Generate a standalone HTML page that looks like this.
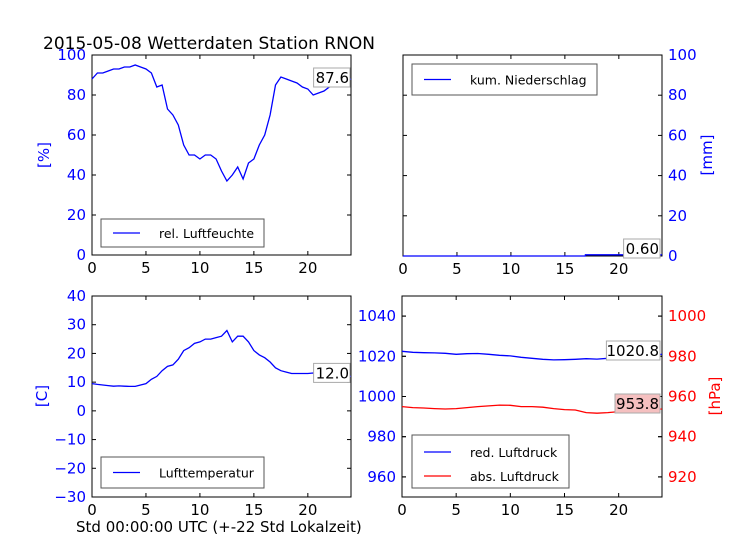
<!DOCTYPE html>
<html><head><meta charset="utf-8"><style>
html,body{margin:0;padding:0;background:#fff;}
svg{display:block;font-family:"DejaVu Sans","Liberation Sans",sans-serif;}
</style></head><body>
<svg id="chart" width="736" height="552" viewBox="0 0 736 552" xmlns="http://www.w3.org/2000/svg">
<rect width="736" height="552" fill="#fff"/>
<text x="43" y="49" font-size="17" fill="#000">2015-05-08 Wetterdaten Station RNON</text>
<text x="76" y="532" font-size="15" fill="#000">Std 00:00:00 UTC (+-22 Std Lokalzeit)</text>
</svg>
<script>
const hours = [0,0.5,1,1.5,2,2.5,3,3.5,4,4.5,5,5.5,6,6.5,7,7.5,8,8.5,9,9.5,10,10.5,11,11.5,12,12.5,13,13.5,14,14.5,15,15.5,16,16.5,17,17.5,18,18.5,19,19.5,20,20.5,21,21.5,22,22.5,23,23.5,24];
const humidity = [88,91,91,92,93,93,94,94,95,94,93,91,84,85,73,70,65,55,50,50,48,50,50,48,42,37,40,44,38,46,48,55,60,70,85,89,88,87,86,84,83,80,81,82,84,85,86,87,88];
const temperature = [9.5,9.2,9,8.8,8.6,8.7,8.6,8.5,8.5,9,9.5,11,12,14,15.5,16,18,21,22,23.5,24,25,25,25.5,26,28,24,26,26,24,21,19.5,18.5,17,15,14,13.5,13,13,13,13,13.2,13,12.8,12.5,12.3,12.2,12,12];
const precipHours = [0,16.9,16.9,24];
const precip = [0,0,0.6,0.6];
const pHours = [0,1,2,3,4,5,6,7,8,9,10,11,12,13,14,15,16,17,18,19,20,21,22,23,24];
const redPressure = [1022.5,1022,1021.8,1021.7,1021.5,1021,1021.3,1021.4,1021,1020.5,1020.2,1019.5,1019,1018.5,1018.2,1018.3,1018.5,1018.8,1018.6,1019,1019.5,1019.8,1020.2,1020.5,1021];
const absPressure = [955,954.5,954.3,954,953.8,954,954.5,955,955.3,955.7,955.6,955,955,954.7,954,953.5,953.3,952,951.7,952,952.5,953,953.3,953.5,953.8];
const xTicks = [0,5,10,15,20];
const humTicks = [0,20,40,60,80,100];
const precTicks = [0,20,40,60,80,100];
const tempTicks = [-30,-20,-10,0,10,20,30,40];
const redTicks = [960,980,1000,1020,1040];
const absTicks = [920,940,960,980,1000];
const lastLabels = ["87.6","0.60","12.0","1020.8","953.8"];

const svg = document.getElementById('chart');
const NS = 'http://www.w3.org/2000/svg';
function mk(tag, attrs, parent){const e=document.createElementNS(NS,tag);for(const k in attrs)e.setAttribute(k,attrs[k]);(parent||svg).appendChild(e);return e;}
function sx(p,h){return p.x0+(h/24)*(p.x1-p.x0);}
function sy(p,v,mn,mx){return p.y1-(v-mn)/(mx-mn)*(p.y1-p.y0);}

const panels = [
 {name:'humidity',x0:92,x1:351,y0:55,y1:255},
 {name:'precip',x0:403,x1:662,y0:55,y1:256},
 {name:'temperature',x0:92,x1:351,y0:296,y1:497},
 {name:'pressure',x0:402,x1:662,y0:296,y1:497}
];

function frame(p){
  const r=mk('rect',{x:p.x0,y:p.y0,width:p.x1-p.x0,height:p.y1-p.y0,fill:'none',stroke:'#000','stroke-width':1});
  
  
  xTicks.forEach(t=>{
    const x=sx(p,t);
    const l1=mk('line',{x1:x,x2:x,y1:p.y1,y2:p.y1-4,stroke:'#000'});
    
    
    const l2=mk('line',{x1:x,x2:x,y1:p.y0,y2:p.y0+4,stroke:'#000'});
    
    
    const tx=mk('text',{x:x,y:p.y1+18,'font-size':15,'text-anchor':'middle',fill:'#000'});
    
    
    tx.textContent=t;
  });
}
function yAxis(p,ticks,mn,mx,side,color){
  ticks.forEach(t=>{
    const y=sy(p,t,mn,mx);
    const l1=mk('line',{x1:p.x0,x2:p.x0+4,y1:y,y2:y,stroke:'#000'});
    
    
    const l2=mk('line',{x1:p.x1,x2:p.x1-4,y1:y,y2:y,stroke:'#000'});
    
    
    const left=side==='left';
    const tx=mk('text',{x:left?p.x0-6:p.x1+6,y:y+5,'font-size':15,'text-anchor':left?'end':'start',fill:color});
    
    
    tx.textContent=String(t).replace('-','\u2212');
  });
}
function line(p,xs,ys,mn,mx,color,name){
  const pts=xs.map((h,i)=>sx(p,h).toFixed(1)+','+sy(p,ys[i],mn,mx).toFixed(1)).join(' ');
  const pl=mk('polyline',{points:pts,fill:'none',stroke:color,'stroke-width':1.3});
  
  
}
function yTitle(x,y,txt,color,name){
  const t=mk('text',{x:x,y:y,'font-size':15,fill:color,'text-anchor':'middle',transform:'rotate(-90 '+x+' '+y+')'});
  
  
  t.textContent=txt;
}
function legend(x,y,w,h,entries){
  const g=mk('g',{});
  
  
  mk('rect',{x:x,y:y,width:w,height:h,fill:'#fff',stroke:'#555','stroke-width':1},g);
  entries.forEach((e,i)=>{
    const yy=y+(entries.length===1?h/2:17+i*24);
    mk('line',{x1:x+12,x2:x+39,y1:yy,y2:yy,stroke:e.c,'stroke-width':1.3},g);
    const t=mk('text',{x:x+58,y:yy+5,'font-size':12.5,fill:'#000'},g);
    t.textContent=e.t;
  });
}
function valueBox(xr,y,txt,bg,name){
  const w=txt.length*8.6+2;
  const g=mk('g',{});
  
  
  mk('rect',{x:xr-w,y:y-15,width:w,height:19,fill:bg,stroke:'#aaa','stroke-width':1},g);
  const t=mk('text',{x:xr-1,y:y,'font-size':15,'text-anchor':'end',fill:'#000'},g);
  t.textContent=txt;
}

// Panel 1 humidity
let p=panels[0];
frame(p); yAxis(p,humTicks,0,100,'left','#00f');
line(p,hours,humidity,0,100,'#00f','humidity-line');
yTitle(49,155,'[%]','#00f','humidity-y-title');
legend(101,219,163,28,[{c:'#00f',t:'rel. Luftfeuchte'}]);
valueBox(350,sy(p,humidity[humidity.length-1],0,100)+4,lastLabels[0],'#fff','humidity-last-value');

// Panel 2 precipitation
p=panels[1];
frame(p); yAxis(p,precTicks,0,100,'right','#00f');
line(p,precipHours,precip,0,100,'#00f','precip-line');
yTitle(712,155,'[mm]','#00f','precip-y-title');
legend(412,64,185,31,[{c:'#00f',t:'kum. Niederschlag'}]);
valueBox(660,254,lastLabels[1],'#fff','precip-last-value');

// Panel 3 temperature
p=panels[2];
frame(p); yAxis(p,tempTicks,-30,40,'left','#00f');
line(p,hours,temperature,-30,40,'#00f','temperature-line');
yTitle(47,396,'[C]','#00f','temperature-y-title');
legend(101,457,163,31,[{c:'#00f',t:'Lufttemperatur'}]);
valueBox(350,sy(p,temperature[temperature.length-1],-30,40)+2,lastLabels[2],'#fff','temperature-last-value');

// Panel 4 pressure
p=panels[3];
frame(p); yAxis(p,redTicks,950,1050,'left','#00f'); yAxis(p,absTicks,910,1010,'right','#f00');
line(p,pHours,redPressure,950,1050,'#00f','red-pressure-line');
line(p,pHours,absPressure,910,1010,'#f00','abs-pressure-line');
yTitle(720,396,'[hPa]','#f00','pressure-y-title');
legend(412,435,157,53,[{c:'#00f',t:'red. Luftdruck'},{c:'#f00',t:'abs. Luftdruck'}]);
valueBox(660,356,lastLabels[3],'#fff','red-pressure-last-value');
valueBox(660,409,lastLabels[4],'#f5c0c0','abs-pressure-last-value');
</script>
</body></html>
